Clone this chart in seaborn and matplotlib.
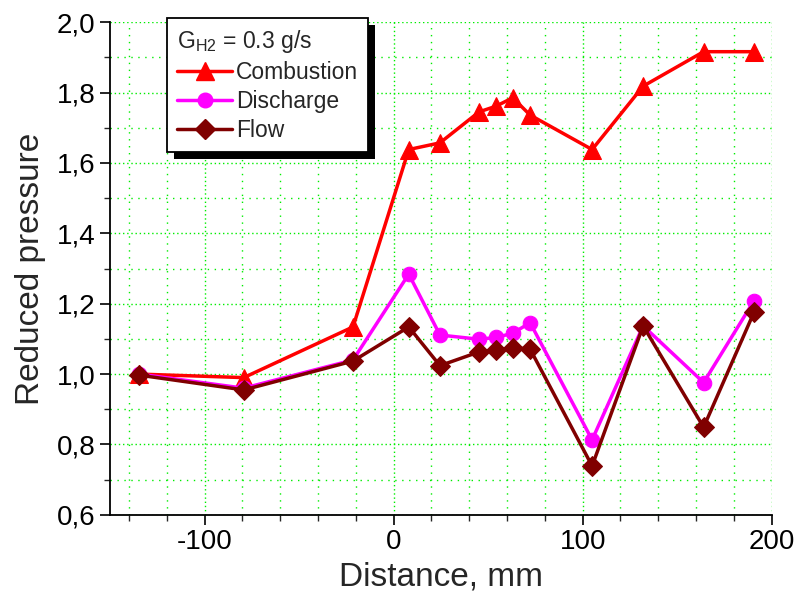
import matplotlib
matplotlib.use("Agg")
import matplotlib.pyplot as plt
import seaborn as sns
import pandas as pd
from matplotlib.ticker import MultipleLocator, FuncFormatter
from matplotlib.lines import Line2D
from matplotlib.patches import Rectangle
from matplotlib.transforms import IdentityTransform

distance = [-134.6, -79.3, -21.5, 8.0, 24.5, 45.2, 54.1, 63.0, 72.2, 105.0, 132.0, 164.0, 190.6]
combustion = [1.00, 0.99, 1.134, 1.638, 1.657, 1.745, 1.761, 1.785, 1.736, 1.638, 1.818, 1.916, 1.916]
discharge = [1.00, 0.96, 1.04, 1.284, 1.111, 1.099, 1.104, 1.116, 1.146, 0.813, 1.137, 0.976, 1.208]
flow = [0.997, 0.955, 1.037, 1.134, 1.024, 1.063, 1.068, 1.075, 1.071, 0.739, 1.137, 0.849, 1.175]
series_names = ["Combustion", "Discharge", "Flow"]

sns.set_style("ticks")
plt.rcParams["font.family"] = ["Liberation Sans", "DejaVu Sans"]

df = pd.DataFrame({"Distance": distance * 3,
                   "Pressure": combustion + discharge + flow,
                   "Series": sum([[n] * len(distance) for n in series_names], [])})

fig = plt.figure(figsize=(7.98, 5.98), dpi=100)
ax = fig.add_axes([0.138, 0.139, 0.829, 0.824])

styles = {
    "Combustion": dict(color="#ff0000", marker="^", markersize=13.5),
    "Discharge": dict(color="#ff00ff", marker="o", markersize=10.5),
    "Flow": dict(color="#800000", marker="D", markersize=10.5),
}
handles = []
for name in series_names:
    st = styles[name]
    sub = df[df["Series"] == name]
    sns.lineplot(data=sub, x="Distance", y="Pressure", ax=ax, estimator=None, sort=False,
                 color=st["color"], marker=st["marker"], markersize=st["markersize"],
                 markeredgecolor=st["color"], linewidth=2.5, zorder=3, legend=False)
    handles.append(Line2D([], [], color=st["color"], marker=st["marker"],
                          markersize=st["markersize"], markeredgecolor=st["color"],
                          linewidth=2.5, label=name))

ax.set_xlim(-150, 200)
ax.set_ylim(0.6, 2.0)
ax.xaxis.set_major_locator(MultipleLocator(100))
ax.xaxis.set_minor_locator(MultipleLocator(20))
ax.yaxis.set_major_locator(MultipleLocator(0.2))
ax.yaxis.set_minor_locator(MultipleLocator(0.1))
ax.yaxis.set_major_formatter(FuncFormatter(lambda v, p: f"{v:.1f}".replace(".", ",")))
ax.xaxis.set_major_formatter(FuncFormatter(lambda v, p: f"{v:.0f}"))

ax.grid(which="major", color="#00ee00", linestyle=(0, (1, 2)), linewidth=1.0, zorder=0)
ax.grid(which="minor", color="#00ee00", linestyle=(0, (1, 4)), linewidth=1.0, zorder=0)
ax.set_axisbelow(True)
for s in ["top", "right"]:
    ax.spines[s].set_visible(False)
for s in ["left", "bottom"]:
    ax.spines[s].set_linewidth(1.3)
    ax.spines[s].set_color("black")
ax.tick_params(which="major", direction="out", length=7, width=1.2, labelsize=20, colors="black")
ax.tick_params(which="minor", direction="out", length=4, width=1.0)

ax.set_xlabel("Distance, mm", fontsize=24, labelpad=4)
ax.set_ylabel("Reduced pressure", fontsize=24, labelpad=8)

leg = ax.legend(handles=handles, title=r"G$_{\mathregular{H2}}$ = 0.3 g/s",
                loc="upper left", bbox_to_anchor=(0.086, 1.008), fontsize=16.5,
                title_fontsize=16.5, frameon=True, fancybox=False, framealpha=1.0,
                shadow=False, handlelength=2.4,
                handletextpad=0.15, labelspacing=0.25, borderpad=0.45,
                alignment="left", borderaxespad=0)
leg.get_frame().set_edgecolor("black")
leg.get_frame().set_linewidth(1.3)
leg.get_frame().set_facecolor("white")
leg.get_frame().set_alpha(1.0)
leg.set_zorder(5)

fig.canvas.draw()
bb = leg.get_window_extent()
shadow = Rectangle((bb.x0 + 7, bb.y0 - 7), bb.width, bb.height, transform=IdentityTransform(),
                   facecolor="black", edgecolor="none", zorder=4.9, clip_on=False)
ax.add_artist(shadow)

fig.savefig("out.png", dpi=100)
